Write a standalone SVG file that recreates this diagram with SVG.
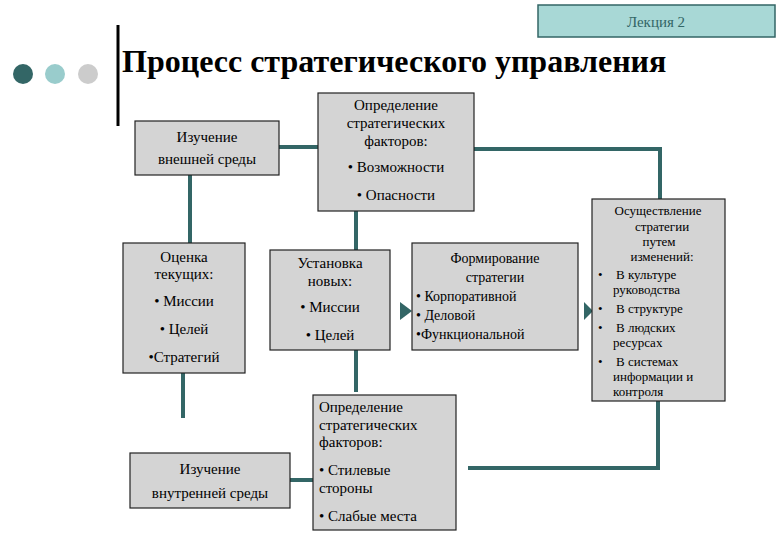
<svg xmlns="http://www.w3.org/2000/svg" width="780" height="540" viewBox="0 0 780 540">
<style>
text{font-family:"Liberation Serif","Times New Roman","DejaVu Serif",serif}
.b{fill:#d4d4d4;stroke:#222;stroke-width:1.2}
.t{font-size:15px;fill:#000}
.c{stroke:#336666;stroke-width:4;fill:none}
</style>
<rect width="780" height="540" fill="#fff"/>
<rect x="538" y="5" width="237" height="32" fill="#a8d8d6" stroke="#336666" stroke-width="1.5"/>
<text x="656" y="27" text-anchor="middle" class="t" style="fill:#336666">Лекция 2</text>
<line x1="118" y1="25" x2="118" y2="126" stroke="#000" stroke-width="3"/>
<circle cx="23" cy="74" r="10" fill="#336666"/>
<circle cx="55" cy="74" r="10" fill="#99cccc"/>
<circle cx="88" cy="74" r="10" fill="#cccccc"/>
<text x="122" y="72" style="font-size:32px;font-weight:bold">Процесс стратегического управления</text>
<g id="connectors">
<path class="c" d="M279 147H318"/>
<path class="c" d="M474 149H660V199"/>
<path class="c" d="M190 175V243"/>
<path class="c" d="M356 211V250"/>
<path class="c" d="M356 350V392"/>
<path class="c" d="M183 373V418"/>
<path class="c" d="M290 480H313"/>
<path class="c" d="M468 468H658V390"/>
<polygon points="400,302 412,311 400,320" fill="#336666"/>
<polygon points="584,302 593,311 584,320" fill="#336666"/>
</g>
<g id="n1"><rect class="b" x="135" y="121" width="144" height="54"/>
<text class="t" text-anchor="middle" x="207" y="142">Изучение</text><text class="t" text-anchor="middle" x="207" y="164">внешней среды</text></g>
<g id="n2"><rect class="b" x="318" y="93" width="156" height="118"/>
<text class="t" text-anchor="middle" x="396" y="110">Определение</text><text class="t" text-anchor="middle" x="396" y="128">стратегических</text><text class="t" text-anchor="middle" x="396" y="146">факторов:</text><text class="t" text-anchor="middle" x="396" y="172">• Возможности</text><text class="t" text-anchor="middle" x="396" y="200">• Опасности</text></g>
<g id="n3"><rect class="b" x="123" y="243" width="122" height="130"/>
<text class="t" text-anchor="middle" x="184" y="262">Оценка</text><text class="t" text-anchor="middle" x="184" y="279">текущих:</text><text class="t" text-anchor="middle" x="184" y="306">• Миссии</text><text class="t" text-anchor="middle" x="184" y="334">• Целей</text><text class="t" text-anchor="middle" x="184" y="362">•Стратегий</text></g>
<g id="n4"><rect class="b" x="270" y="250" width="120" height="100"/>
<text class="t" text-anchor="middle" x="330" y="268">Установка</text><text class="t" text-anchor="middle" x="330" y="286">новых:</text><text class="t" text-anchor="middle" x="330" y="312">• Миссии</text><text class="t" text-anchor="middle" x="330" y="340">• Целей</text></g>
<g id="n5"><rect class="b" x="412" y="243" width="166" height="107"/>
<text class="t" text-anchor="middle" x="495" y="263" style="font-size:14px">Формирование</text><text class="t" text-anchor="middle" x="495" y="282" style="font-size:14px">стратегии</text><text class="t" x="416" y="301" style="font-size:14px">• Корпоративной</text><text class="t" x="416" y="320" style="font-size:14px">• Деловой</text><text class="t" x="416" y="339" style="font-size:14px">•Функциональной</text></g>
<g id="n6"><rect class="b" x="592" y="199" width="133" height="202"/>
<g class="t" style="font-size:13px" text-anchor="middle"><text x="658" y="215">Осуществление</text><text x="662" y="231">стратегии</text><text x="659" y="246">путем</text><text x="662" y="261">изменений:</text></g>
<g class="t" style="font-size:13px"><text x="598" y="279">•</text><text x="616" y="279">В культуре</text><text x="613" y="294">руководства</text>
<text x="598" y="313">•</text><text x="616" y="313">В структуре</text>
<text x="598" y="332">•</text><text x="616" y="332">В людских</text><text x="613" y="347">ресурсах</text>
<text x="598" y="366">•</text><text x="616" y="366">В системах</text><text x="613" y="381">информации и</text><text x="613" y="396">контроля</text></g></g>
<g id="n7"><rect class="b" x="313" y="395" width="143" height="135"/>
<g class="t"><text x="319" y="412">Определение</text><text x="319" y="430">стратегических</text><text x="319" y="447">факторов:</text><text x="319" y="475">• Стилевые</text><text x="319" y="493">стороны</text><text x="319" y="521">• Слабые места</text></g></g>
<g id="n8"><rect class="b" x="130" y="453" width="160" height="55"/>
<text class="t" text-anchor="middle" x="210" y="474">Изучение</text><text class="t" text-anchor="middle" x="210" y="498">внутренней среды</text></g>
</svg>
